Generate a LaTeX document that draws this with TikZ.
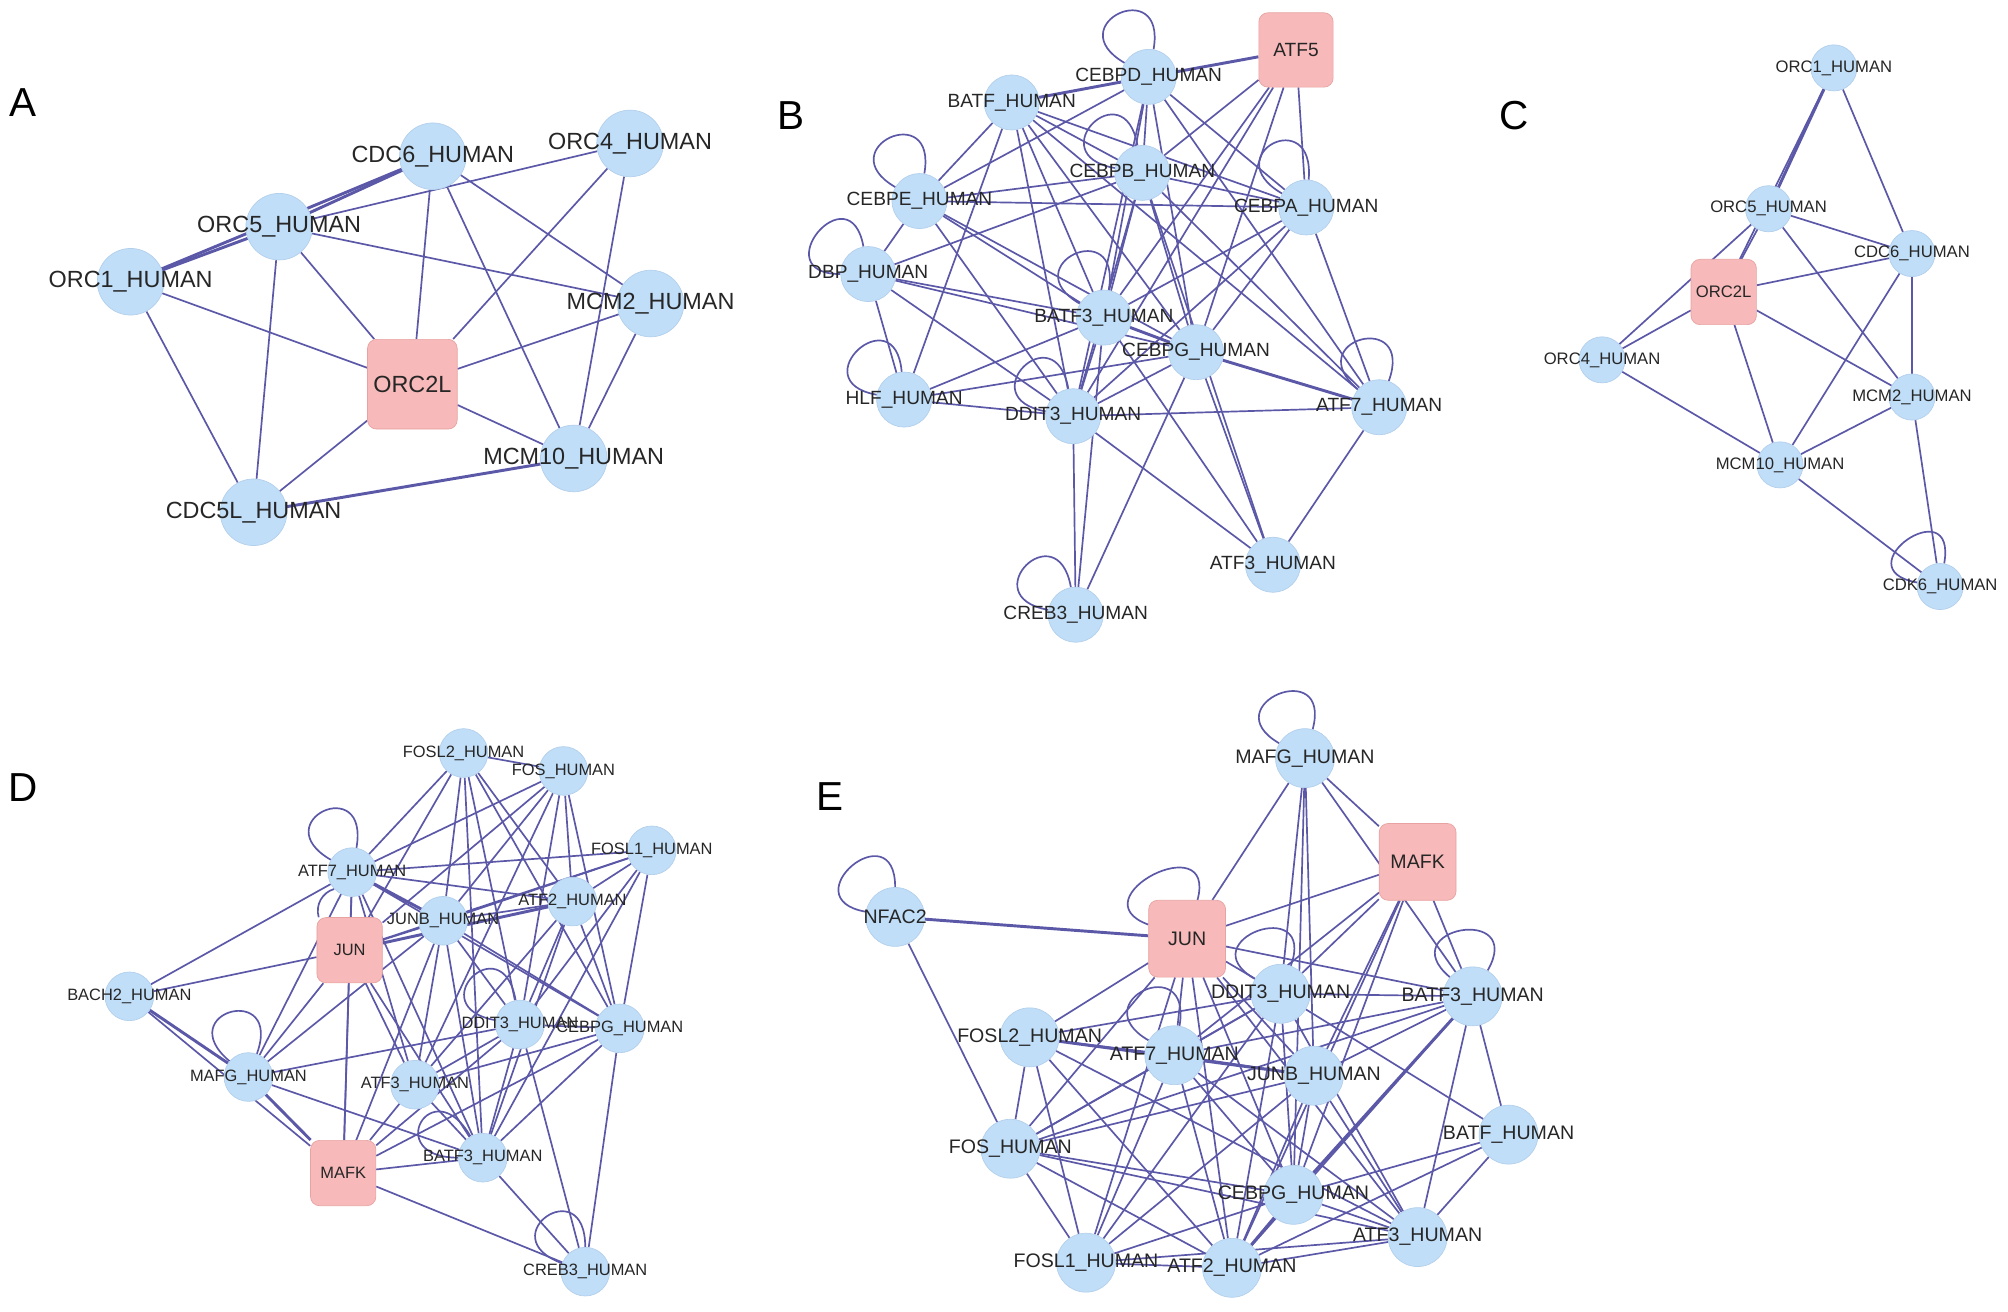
\documentclass[tikz,border=0pt]{standalone}
\usepackage{fontspec}
\setmainfont{Liberation Sans}
\usetikzlibrary{backgrounds}
\definecolor{protblue}{RGB}{193,222,248}
\definecolor{protrim}{RGB}{178,207,236}
\definecolor{hubpink}{RGB}{247,185,185}
\definecolor{hubrim}{RGB}{232,162,162}
\definecolor{linkblue}{RGB}{92,88,168}
\definecolor{labelgray}{RGB}{38,38,38}
\newcommand{\hname}[1]{\makebox[0pt]{#1\_HUMAN}}
\newcommand{\hubname}[1]{\makebox[0pt]{#1}}

\begin{document}
\begin{tikzpicture}[x=0.2mm, y=-0.2mm,
    prot/.style = {circle, fill=protblue, draw=protrim, line width=0.3pt, inner sep=0pt, text=labelgray},
    hub/.style = {rectangle, rounded corners=1.4mm, fill=hubpink, draw=hubrim, line width=0.3pt, inner sep=0pt, text=labelgray},
    link/.style = {draw=linkblue, line width=0.75pt},
    heavy/.style = {link, line width=1.3pt},
    selfloop/.style = {link, looseness=1, min distance=12mm},
    letter/.style = {font=\fontsize{18}{20}\selectfont, text=black}]
\useasboundingbox (0,0) rectangle (1568,1024);

% A
\begin{scope}[font=\fontsize{10.4}{12}\selectfont,
    prot/.append style={minimum size=10.4mm}, hub/.append style={minimum size=14mm}]
\node[letter] (lblA) at (18,80) {A};
\node[prot] (aCDC6) at (338,122) {\hname{CDC6}};
\node[prot] (aORC4) at (492,112) {\hname{ORC4}};
\node[prot] (aORC5) at (218,177) {\hname{ORC5}};
\node[prot] (aORC1) at (102,220) {\hname{ORC1}};
\node[prot] (aMCM2) at (508,237) {\hname{MCM2}};
\node[hub] (aORC2L) at (322,300) {\hubname{ORC2L}};
\node[prot] (aMCM10) at (448,358) {\hname{MCM10}};
\node[prot] (aCDC5L) at (198,400) {\hname{CDC5L}};
\begin{scope}[on background layer]
\foreach \s/\t in {aCDC6/aORC5, aCDC6/aORC1, aORC5/aORC1, aMCM10/aCDC5L}
    \draw[heavy] (\s) -- (\t);
\foreach \s/\t in {aORC4/aORC5, aCDC6/aORC2L, aCDC6/aMCM10, aCDC6/aMCM2,
    aORC5/aMCM2, aORC5/aORC2L, aORC5/aCDC5L, aORC1/aORC2L, aORC1/aCDC5L,
    aORC4/aORC2L, aORC4/aMCM10, aMCM2/aORC2L, aMCM2/aMCM10,
    aORC2L/aMCM10, aORC2L/aCDC5L}
    \draw[link] (\s) -- (\t);
\end{scope}
\end{scope}

% B
\begin{scope}[font=\fontsize{8.5}{10}\selectfont,
    prot/.append style={minimum size=8.6mm}, hub/.append style={minimum size=11.6mm}]
\node[letter] (lblB) at (618,90) {B};
\node[hub] (bATF5) at (1012,39) {\hubname{ATF5}};
\node[prot] (bCEBPD) at (897,60) {\hname{CEBPD}};
\node[prot] (bBATF) at (790,80) {\hname{BATF}};
\node[prot] (bCEBPB) at (892,135) {\hname{CEBPB}};
\node[prot] (bCEBPE) at (718,157) {\hname{CEBPE}};
\node[prot] (bCEBPA) at (1020,162) {\hname{CEBPA}};
\node[prot] (bDBP) at (678,214) {\hname{DBP}};
\node[prot] (bBATF3) at (862,248) {\hname{BATF3}};
\node[prot] (bCEBPG) at (934,275) {\hname{CEBPG}};
\node[prot] (bHLF) at (706,312) {\hname{HLF}};
\node[prot] (bDDIT3) at (838,325) {\hname{DDIT3}};
\node[prot] (bATF7) at (1077,318) {\hname{ATF7}};
\node[prot] (bATF3) at (994,441) {\hname{ATF3}};
\node[prot] (bCREB3) at (840,480) {\hname{CREB3}};
\begin{scope}[on background layer]
\foreach \s/\t in {bATF5/bCEBPD, bCEBPD/bBATF, bCEBPG/bATF7, bBATF3/bCEBPG}
    \draw[heavy] (\s) -- (\t);
\foreach \s/\t in {bATF5/bCEBPA, bATF5/bCEBPB, bATF5/bBATF3, bATF5/bCEBPG, bATF5/bDDIT3,
    bCEBPD/bCEBPE, bCEBPD/bCEBPB, bCEBPD/bBATF3, bCEBPD/bCEBPG, bCEBPD/bDDIT3,
    bCEBPD/bCEBPA, bCEBPD/bATF7, bBATF/bCEBPE, bBATF/bCEBPB, bBATF/bCEBPA,
    bBATF/bBATF3, bBATF/bCEBPG, bBATF/bDDIT3, bBATF/bHLF, bBATF/bATF7,
    bCEBPB/bCEBPE, bCEBPB/bCEBPA, bCEBPB/bDBP, bCEBPB/bBATF3, bCEBPB/bCEBPG,
    bCEBPB/bDDIT3, bCEBPB/bATF3, bCEBPB/bATF7, bCEBPE/bCEBPA, bCEBPE/bDBP,
    bCEBPE/bBATF3, bCEBPE/bCEBPG, bCEBPE/bDDIT3, bCEBPA/bBATF3, bCEBPA/bCEBPG,
    bCEBPA/bDDIT3, bCEBPA/bATF7, bDBP/bBATF3, bDBP/bCEBPG, bDBP/bHLF,
    bDBP/bDDIT3, bBATF3/bHLF, bBATF3/bDDIT3, bBATF3/bCREB3, bBATF3/bATF3,
    bCEBPG/bHLF, bCEBPG/bDDIT3, bCEBPG/bATF3, bCEBPG/bCREB3, bHLF/bDDIT3,
    bDDIT3/bATF7, bDDIT3/bCREB3, bDDIT3/bATF3, bATF7/bATF3}
    \draw[link] (\s) -- (\t);
\draw[selfloop] (bCEBPD) to[out=150,in=80] (bCEBPD);
\draw[selfloop] (bCEBPE) to[out=150,in=80] (bCEBPE);
\draw[selfloop] (bDBP) to[out=180,in=100] (bDBP);
\draw[selfloop] (bCEBPB) to[out=170,in=100] (bCEBPB);
\draw[selfloop] (bCEBPA) to[out=150,in=85] (bCEBPA);
\draw[selfloop] (bBATF3) to[out=150,in=80] (bBATF3);
\draw[selfloop] (bHLF) to[out=170,in=95] (bHLF);
\draw[selfloop] (bDDIT3) to[out=170,in=100] (bDDIT3);
\draw[selfloop] (bATF7) to[out=140,in=70] (bATF7);
\draw[selfloop] (bCREB3) to[out=170,in=100] (bCREB3);
\end{scope}
\end{scope}

% C
\begin{scope}[font=\fontsize{7.4}{9}\selectfont,
    prot/.append style={minimum size=7.2mm}, hub/.append style={minimum size=10.2mm}]
\node[letter] (lblC) at (1182,90) {C};
\node[prot] (cORC1) at (1432,53) {\hname{ORC1}};
\node[prot] (cORC5) at (1381,163) {\hname{ORC5}};
\node[prot] (cCDC6) at (1493,198) {\hname{CDC6}};
\node[hub] (cORC2L) at (1346,228) {\hubname{ORC2L}};
\node[prot] (cORC4) at (1251,281) {\hname{ORC4}};
\node[prot] (cMCM2) at (1493,310) {\hname{MCM2}};
\node[prot] (cMCM10) at (1390,363) {\hname{MCM10}};
\node[prot] (cCDK6) at (1515,458) {\hname{CDK6}};
\begin{scope}[on background layer]
\draw[heavy] (cORC1) -- (cORC5);
\foreach \s/\t in {cORC1/cORC2L, cORC1/cCDC6, cORC5/cCDC6, cORC5/cORC4,
    cORC5/cMCM2, cORC5/cORC2L, cORC2L/cCDC6, cORC2L/cORC4, cORC2L/cMCM2,
    cORC2L/cMCM10, cORC4/cMCM10, cCDC6/cMCM2, cCDC6/cMCM10, cMCM2/cMCM10,
    cMCM2/cCDK6, cMCM10/cCDK6}
    \draw[link] (\s) -- (\t);
\draw[selfloop] (cCDK6) to[out=170,in=80] (cCDK6);
\end{scope}
\end{scope}

% D
\begin{scope}[font=\fontsize{7.3}{9}\selectfont,
    prot/.append style={minimum size=7.6mm}, hub/.append style={minimum size=10.2mm}]
\node[letter] (lblD) at (18,615) {D};
\node[prot] (dFOSL2) at (362,588) {\hname{FOSL2}};
\node[prot] (dFOS) at (440,602) {\hname{FOS}};
\node[prot] (dFOSL1) at (509,664) {\hname{FOSL1}};
\node[prot] (dATF7) at (275,681) {\hname{ATF7}};
\node[prot] (dATF2) at (447,704) {\hname{ATF2}};
\node[prot] (dJUNB) at (346,719) {\hname{JUNB}};
\node[hub] (dJUN) at (273,742) {\hubname{JUN}};
\node[prot] (dBACH2) at (101,778) {\hname{BACH2}};
\node[prot] (dDDIT3) at (406,800) {\hname{DDIT3}};
\node[prot] (dCEBPG) at (484,803) {\hname{CEBPG}};
\node[prot] (dMAFG) at (194,841) {\hname{MAFG}};
\node[prot] (dATF3) at (324,847) {\hname{ATF3}};
\node[hub] (dMAFK) at (268,916) {\hubname{MAFK}};
\node[prot] (dBATF3) at (377,904) {\hname{BATF3}};
\node[prot] (dCREB3) at (457,993) {\hname{CREB3}};
\begin{scope}[on background layer]
\foreach \s/\t in {dBACH2/dMAFG, dMAFG/dMAFK, dATF2/dJUN, dATF7/dJUNB}
    \draw[heavy] (\s) -- (\t);
\foreach \s/\t in {dFOSL2/dFOS, dFOSL2/dATF7, dFOSL2/dJUNB, dFOSL2/dJUN, dFOSL2/dATF2,
    dFOSL2/dDDIT3, dFOSL2/dCEBPG, dFOSL2/dBATF3, dFOS/dATF7, dFOS/dJUNB, dFOS/dJUN,
    dFOS/dATF2, dFOS/dDDIT3, dFOS/dCEBPG, dFOS/dATF3, dFOSL1/dATF7, dFOSL1/dJUNB,
    dFOSL1/dJUN, dFOSL1/dATF2, dFOSL1/dDDIT3, dFOSL1/dCEBPG, dFOSL1/dBATF3,
    dATF7/dATF2, dATF7/dJUN, dATF7/dBACH2, dATF7/dMAFG, dATF7/dATF3, dATF7/dBATF3,
    dATF7/dCEBPG, dATF7/dMAFK, dATF2/dJUNB, dATF2/dDDIT3, dATF2/dCEBPG,
    dATF2/dATF3, dATF2/dBATF3, dJUNB/dJUN, dJUNB/dMAFG, dJUNB/dATF3, dJUNB/dBATF3,
    dJUNB/dCEBPG, dJUNB/dDDIT3, dJUNB/dMAFK, dJUN/dBACH2, dJUN/dMAFG, dJUN/dMAFK,
    dJUN/dATF3, dJUN/dBATF3, dBACH2/dMAFK, dDDIT3/dMAFG, dDDIT3/dATF3,
    dDDIT3/dBATF3, dDDIT3/dCEBPG, dDDIT3/dMAFK, dDDIT3/dCREB3, dCEBPG/dATF3,
    dCEBPG/dBATF3, dCEBPG/dMAFK, dCEBPG/dCREB3, dMAFG/dBATF3, dATF3/dMAFK,
    dATF3/dBATF3, dMAFK/dBATF3, dMAFK/dCREB3, dBATF3/dCREB3}
    \draw[link] (\s) -- (\t);
\draw[link] (dATF7) to[bend right=45] (dJUN);
\draw[selfloop] (dATF7) to[out=150,in=80] (dATF7);
\draw[selfloop] (dMAFG) to[out=140,in=70] (dMAFG);
\draw[selfloop] (dDDIT3) to[out=170,in=100] (dDDIT3);
\draw[selfloop] (dBATF3) to[out=180,in=120] (dBATF3);
\draw[selfloop] (dCREB3) to[out=160,in=90] (dCREB3);
\end{scope}
\end{scope}

% E
\begin{scope}[font=\fontsize{8.7}{10}\selectfont,
    prot/.append style={minimum size=9.2mm}, hub/.append style={minimum size=12mm}]
\node[letter] (lblE) at (648,622) {E};
\node[prot] (eMAFG) at (1019,592) {\hname{MAFG}};
\node[hub] (eMAFK) at (1107,673) {\hubname{MAFK}};
\node[prot] (eNFAC2) at (699,716) {\hubname{NFAC2}};
\node[hub] (eJUN) at (927,733) {\hubname{JUN}};
\node[prot] (eDDIT3) at (1000,776) {\hname{DDIT3}};
\node[prot] (eBATF3) at (1150,778) {\hname{BATF3}};
\node[prot] (eFOSL2) at (804,810) {\hname{FOSL2}};
\node[prot] (eATF7) at (917,824) {\hname{ATF7}};
\node[prot] (eJUNB) at (1026,840) {\hname{JUNB}};
\node[prot] (eBATF) at (1178,886) {\hname{BATF}};
\node[prot] (eFOS) at (789,897) {\hname{FOS}};
\node[prot] (eCEBPG) at (1010,933) {\hname{CEBPG}};
\node[prot] (eATF3) at (1107,966) {\hname{ATF3}};
\node[prot] (eFOSL1) at (848,986) {\hname{FOSL1}};
\node[prot] (eATF2) at (962,990) {\hname{ATF2}};
\begin{scope}[on background layer]
\foreach \s/\t in {eNFAC2/eJUN, eBATF3/eCEBPG, eFOSL2/eJUNB, eCEBPG/eATF2}
    \draw[heavy] (\s) -- (\t);
\foreach \s/\t in {eNFAC2/eFOS, eMAFG/eMAFK, eMAFG/eJUN, eMAFG/eDDIT3, eMAFG/eJUNB,
    eMAFG/eBATF3, eMAFG/eCEBPG, eMAFK/eJUN, eMAFK/eDDIT3, eMAFK/eBATF3, eMAFK/eJUNB,
    eMAFK/eCEBPG, eMAFK/eATF2, eMAFK/eATF7, eJUN/eDDIT3, eJUN/eBATF3, eJUN/eFOSL2,
    eJUN/eATF7, eJUN/eJUNB, eJUN/eFOS, eJUN/eFOSL1, eJUN/eATF2, eJUN/eCEBPG,
    eJUN/eATF3, eDDIT3/eBATF3, eDDIT3/eFOSL2, eDDIT3/eATF7, eDDIT3/eFOS,
    eDDIT3/eFOSL1, eDDIT3/eATF2, eDDIT3/eCEBPG, eDDIT3/eATF3, eDDIT3/eBATF,
    eBATF3/eATF7, eBATF3/eFOS, eBATF3/eJUNB, eBATF3/eATF2, eBATF3/eBATF,
    eBATF3/eATF3, eFOSL2/eATF7, eFOSL2/eFOS, eFOSL2/eATF2, eFOSL2/eATF3,
    eFOSL2/eFOSL1, eATF7/eJUNB, eATF7/eFOS, eATF7/eFOSL1, eATF7/eATF2,
    eATF7/eCEBPG, eATF7/eATF3, eJUNB/eFOS, eJUNB/eFOSL1, eJUNB/eATF2,
    eJUNB/eCEBPG, eJUNB/eATF3, eBATF/eCEBPG, eBATF/eATF2, eBATF/eATF3,
    eFOS/eCEBPG, eFOS/eFOSL1, eFOS/eATF2, eFOS/eATF3, eCEBPG/eFOSL1,
    eCEBPG/eATF3, eATF3/eATF2, eATF3/eFOSL1, eFOSL1/eATF2}
    \draw[link] (\s) -- (\t);
\draw[selfloop] (eMAFG) to[out=150,in=75] (eMAFG);
\draw[selfloop] (eNFAC2) to[out=170,in=90] (eNFAC2);
\draw[selfloop] (eJUN) to[out=160,in=75] (eJUN);
\draw[selfloop] (eDDIT3) to[out=150,in=70] (eDDIT3);
\draw[selfloop] (eBATF3) to[out=140,in=60] (eBATF3);
\draw[selfloop] (eATF7) to[out=150,in=80] (eATF7);
\end{scope}
\end{scope}
\end{tikzpicture}
\end{document}
